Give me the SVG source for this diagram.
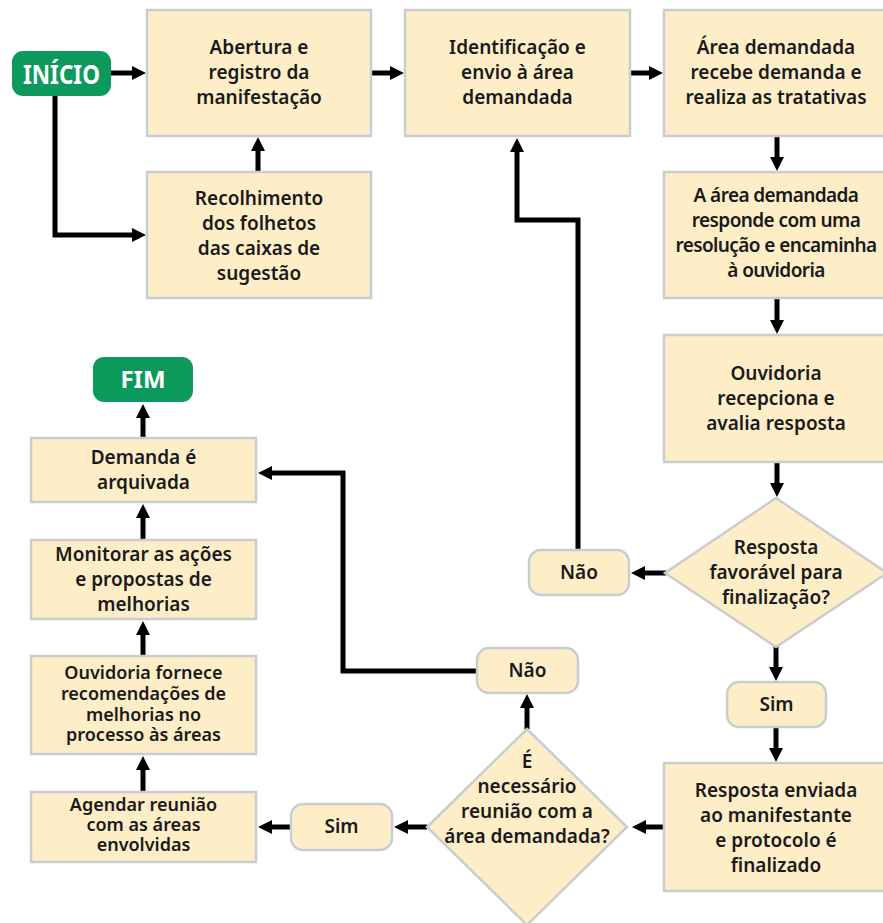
<svg xmlns="http://www.w3.org/2000/svg" width="883" height="923" viewBox="0 0 883 923">
<defs>
<style>
.box{fill:#fdeec8;stroke:#c9cdcf;stroke-width:2.5}
.term{fill:#0c9a5c}
.t{font-family:"Noto Sans","Open Sans",sans-serif;font-weight:600;font-size:19px;fill:#1a1a1a;text-anchor:middle}
.tn{letter-spacing:-0.6px}
.ts{font-size:18px}
.tw{font-family:"Noto Sans","Open Sans",sans-serif;font-weight:700;fill:#ffffff;text-anchor:middle}
.c{fill:none;stroke:#000;stroke-width:5;marker-end:url(#ah)}
</style>
<marker id="ah" markerUnits="userSpaceOnUse" markerWidth="14" markerHeight="14" viewBox="0 0 14 14" refX="4" refY="7" orient="auto">
<path d="M0,0 L14,7 L0,14 z" fill="#000"/>
</marker>
</defs>
<rect width="883" height="923" fill="#ffffff"/>

<g id="connectors">
<path class="c" d="M111,73 H136"/>
<path class="c" d="M55,96 V235 H136"/>
<path class="c" d="M258,173 V147"/>
<path class="c" d="M371,73 H394"/>
<path class="c" d="M631,73 H653"/>
<path class="c" d="M777,136 V161"/>
<path class="c" d="M777,299 V324"/>
<path class="c" d="M777,462 V487"/>
<path class="c" d="M666,573 H641"/>
<path class="c" d="M578,550 V220 H517 V148"/>
<path class="c" d="M776,646 V671"/>
<path class="c" d="M776,727 V752"/>
<path class="c" d="M664,827 H642"/>
<path class="c" d="M527,729 V704"/>
<path class="c" d="M477,671 H343 V473 H268"/>
<path class="c" d="M427,827 H404"/>
<path class="c" d="M291,827 H268"/>
<path class="c" d="M143,792 V766"/>
<path class="c" d="M143,656 V631"/>
<path class="c" d="M143,540 V514"/>
<path class="c" d="M143,438 V414"/>
</g>

<g id="inicio">
<rect class="term" x="12" y="51" width="99" height="45" rx="11"/>
<text class="tw" x="61.5" y="83.5" font-size="26" textLength="77" lengthAdjust="spacingAndGlyphs">INÍCIO</text>
</g>

<g id="abertura">
<rect class="box" x="147" y="10" width="224" height="126"/>
<text class="t" x="259"><tspan x="259" y="54">Abertura e</tspan><tspan x="259" y="79">registro da</tspan><tspan x="259" y="104">manifestação</tspan></text>
</g>

<g id="recolhimento">
<rect class="box" x="147" y="172" width="224" height="126"/>
<text class="t" x="259"><tspan x="259" y="205">Recolhimento</tspan><tspan x="259" y="230">dos folhetos</tspan><tspan x="259" y="255">das caixas de</tspan><tspan x="259" y="280">sugestão</tspan></text>
</g>

<g id="identificacao">
<rect class="box" x="405" y="10" width="225" height="126"/>
<text class="t" x="517.5"><tspan x="517.5" y="54">Identificação e</tspan><tspan x="517.5" y="79">envio à área</tspan><tspan x="517.5" y="104">demandada</tspan></text>
</g>

<g id="area-recebe">
<rect class="box" x="664" y="10" width="226" height="126"/>
<text class="t" x="776"><tspan x="776" y="54">Área demandada</tspan><tspan x="776" y="79">recebe demanda e</tspan><tspan x="776" y="104">realiza as tratativas</tspan></text>
</g>

<g id="area-responde">
<rect class="box" x="664" y="172" width="226" height="126"/>
<text class="t tn" x="776"><tspan x="776" y="202">A área demandada</tspan><tspan x="776" y="227">responde com uma</tspan><tspan x="776" y="252">resolução e encaminha</tspan><tspan x="776" y="277">à ouvidoria</tspan></text>
</g>

<g id="ouvidoria-recepciona">
<rect class="box" x="664" y="335" width="226" height="127"/>
<text class="t" x="776"><tspan x="776" y="380">Ouvidoria</tspan><tspan x="776" y="405">recepciona e</tspan><tspan x="776" y="430">avalia resposta</tspan></text>
</g>

<g id="decisao-favoravel">
<polygon class="box" points="776,498 887,573 776,647 665,573"/>
<text class="t" x="776"><tspan x="776" y="554">Resposta</tspan><tspan x="776" y="579">favorável para</tspan><tspan x="776" y="604">finalização?</tspan></text>
</g>

<g id="nao-1">
<rect class="box" x="529" y="550" width="100" height="45" rx="12"/>
<text class="t" x="579" y="579">Não</text>
</g>

<g id="sim-1">
<rect class="box" x="727" y="682" width="99" height="45" rx="12"/>
<text class="t" x="776.5" y="711">Sim</text>
</g>

<g id="resposta-enviada">
<rect class="box" x="664" y="763" width="226" height="128"/>
<text class="t" x="776"><tspan x="776" y="797">Resposta enviada</tspan><tspan x="776" y="822">ao manifestante</tspan><tspan x="776" y="847">e protocolo é</tspan><tspan x="776" y="872">finalizado</tspan></text>
</g>

<g id="decisao-reuniao">
<polygon class="box" points="527,729 627,827 527,925 427,827"/>
<text class="t" x="527"><tspan x="527" y="768">É</tspan><tspan x="527" y="793">necessário</tspan><tspan x="527" y="818">reunião com a</tspan><tspan x="527" y="843">área demandada?</tspan></text>
</g>

<g id="nao-2">
<rect class="box" x="477" y="648" width="101" height="45" rx="12"/>
<text class="t" x="527.5" y="677">Não</text>
</g>

<g id="sim-2">
<rect class="box" x="291" y="804" width="101" height="46" rx="12"/>
<text class="t" x="341.5" y="833">Sim</text>
</g>

<g id="agendar">
<rect class="box" x="31" y="792" width="225" height="70"/>
<text class="t ts" x="143.5"><tspan x="143.5" y="811">Agendar reunião</tspan><tspan x="143.5" y="831">com as áreas</tspan><tspan x="143.5" y="851">envolvidas</tspan></text>
</g>

<g id="ouvidoria-fornece">
<rect class="box" x="31" y="656" width="225" height="98"/>
<text class="t ts" x="143.5"><tspan x="143.5" y="679">Ouvidoria fornece</tspan><tspan x="143.5" y="700">recomendações de</tspan><tspan x="143.5" y="721">melhorias no</tspan><tspan x="143.5" y="741">processo às áreas</tspan></text>
</g>

<g id="monitorar">
<rect class="box" x="31" y="540" width="225" height="79"/>
<text class="t" x="143.5"><tspan x="143.5" y="561">Monitorar as ações</tspan><tspan x="143.5" y="586">e propostas de</tspan><tspan x="143.5" y="611">melhorias</tspan></text>
</g>

<g id="demanda-arquivada">
<rect class="box" x="31" y="438" width="225" height="64"/>
<text class="t" x="143.5"><tspan x="143.5" y="464">Demanda é</tspan><tspan x="143.5" y="489">arquivada</tspan></text>
</g>

<g id="fim">
<rect class="term" x="93" y="357" width="100" height="45" rx="11"/>
<text class="tw" x="143" y="388" font-size="24">FIM</text>
</g>
</svg>
